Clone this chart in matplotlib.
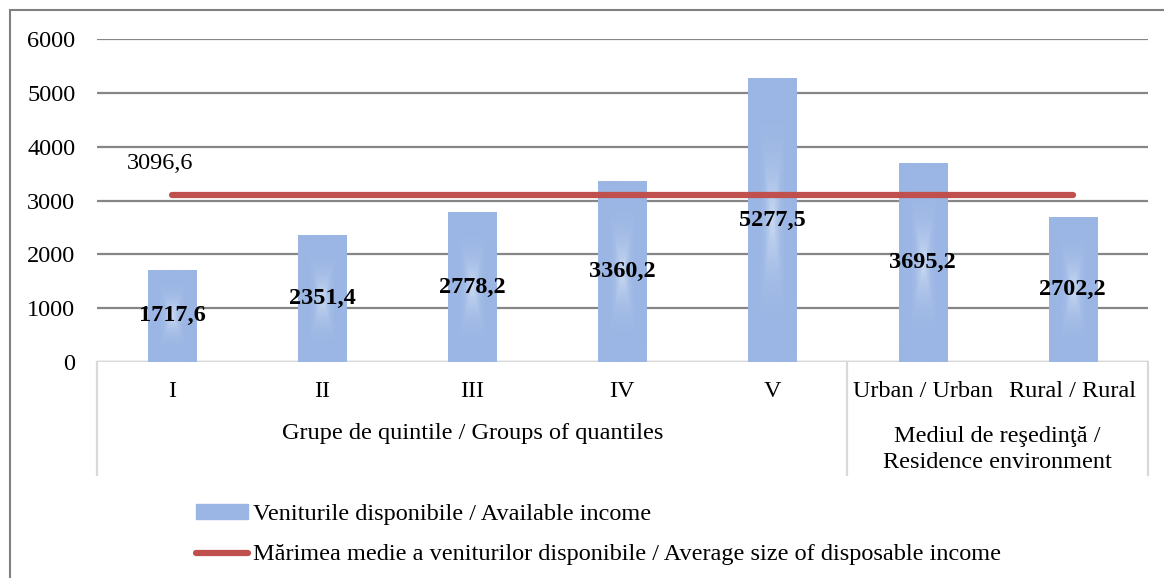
import numpy as np
import matplotlib.pyplot as plt
from matplotlib.patches import Rectangle
from matplotlib.colors import to_rgb
import matplotlib.transforms as mtransforms

plt.rcParams['font.family'] = ['Liberation Serif', 'DejaVu Serif']

# data
quintiles = ['I', 'II', 'III', 'IV', 'V']
residence = ['Urban / Urban', 'Rural / Rural']
categories = quintiles + residence
income = [1717.6, 2351.4, 2778.2, 3360.2, 5277.5, 3695.2, 2702.2]
average_income = 3096.6
group_names = ['Grupe de quintile / Groups of quantiles',
               'Mediul de reşedinţă /\nResidence environment']
group_sizes = [len(quintiles), len(residence)]
bar_label = 'Veniturile disponibile / Available income'
line_label = 'Mărimea medie a veniturilor disponibile / Average size of disposable income'

bar_color = '#9BB6E4'
center_color = '#CCDBF2'
fs = 17.5

fig = plt.figure(figsize=(11.64, 5.78), dpi=100)
ax = fig.add_axes([0.0833, 0.3737, 0.9027, 0.5588])

x = np.arange(len(categories))
bars = ax.bar(x, income, width=0.32, color=bar_color, zorder=2)

# soft glow from the centre of each bar
ny, nx = 200, 60
u = np.linspace(-1, 1, nx)[None, :]
v = np.linspace(-1, 1, ny)[:, None]
t = np.clip(np.maximum(np.abs(u) * 1.5, np.abs(v) * 1.15), 0, 1)
w = (1 - t) ** 2.5
c0 = np.array(to_rgb(bar_color))
c1 = np.array(to_rgb(center_color))
grad = c0[None, None, :] + (c1 - c0)[None, None, :] * w[:, :, None]
for b in bars:
    x0, y0 = b.get_x(), b.get_y()
    im = ax.imshow(grad, extent=[x0, x0 + b.get_width(), y0, y0 + b.get_height()],
                   aspect='auto', zorder=2.1, interpolation='bilinear')
    im.set_clip_path(b)

ax.plot(x, [average_income] * len(x), color='#C0504D', lw=4.5,
        solid_capstyle='round', zorder=3)
ax.text(x[0] - 0.08, average_income + 600, f'{average_income:.1f}'.replace('.', ','),
        ha='center', va='center', fontsize=fs)

for xi, val in zip(x, income):
    ax.text(xi, val / 2, f'{val:.1f}'.replace('.', ','), ha='center', va='center',
            fontsize=fs, fontweight='bold', zorder=4)

ax.set_xlim(-0.5, len(categories) - 0.5)
ax.set_ylim(0, 6000)
ax.set_yticks(range(0, 6001, 1000))
ax.tick_params(axis='y', length=0, pad=15.5, labelsize=fs)
ax.set_xticks([])
ax.yaxis.grid(True, color='#868686', lw=1.6, zorder=0)
ax.set_axisbelow(True)
for s in ax.spines.values():
    s.set_visible(False)
ax.axhline(0, color='#D9D9D9', lw=1.6, zorder=1)

# multi-level category axis
trans = mtransforms.blended_transform_factory(ax.transData, ax.transAxes)
table_bottom = -0.35
for xi, name in zip(x, categories):
    ax.text(xi, -0.09, name, transform=trans, ha='center', va='center', fontsize=fs)
start = 0
edges = [-0.5]
for name, size in zip(group_names, group_sizes):
    mid = start + (size - 1) / 2
    if '\n' in name:
        ax.text(mid, -0.27, name, transform=trans, ha='center', va='center',
                fontsize=fs, linespacing=1.3)
    else:
        ax.text(mid, -0.222, name, transform=trans, ha='center', va='center', fontsize=fs)
    start += size
    edges.append(start - 0.5)
for e in edges:
    ax.plot([e, e], [0, table_bottom], transform=trans, color='#D9D9D9', lw=1.6,
            clip_on=False)

# legend
h1 = Rectangle((0, 0), 1, 1, color=bar_color)
h2, = ax.plot([], [], color='#C0504D', lw=4.5, solid_capstyle='round')
fig.legend([h1, h2], [bar_label, line_label], loc='upper left',
           bbox_to_anchor=(0.168, 0.128), frameon=False, fontsize=fs,
           handlelength=2.15, handleheight=0.55, handletextpad=0.2,
           labelspacing=0.8, borderaxespad=0, borderpad=0)

# outer border
fig.patches.append(Rectangle((10 / 1164, -0.1), 1.2, 1 - 10 / 578 + 0.1,
                             transform=fig.transFigure, fill=False,
                             edgecolor='#808080', lw=1.5))

fig.savefig('out.png', dpi=100)
